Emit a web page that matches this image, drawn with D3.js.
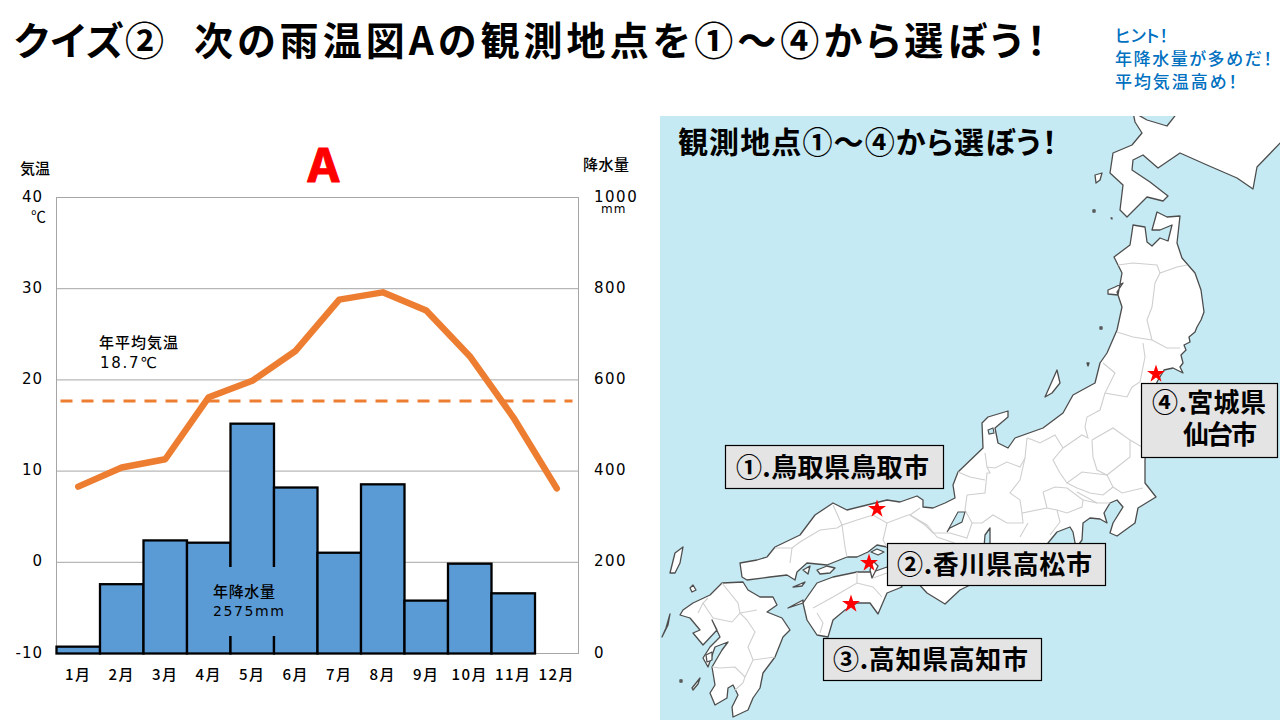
<!DOCTYPE html>
<html>
<head>
<meta charset="utf-8">
<script src="https://cdn.jsdelivr.net/npm/d3@7"></script>
<style>
  html, body { margin: 0; padding: 0; background: #fff; }
  text { font-family: "Noto Sans CJK JP", sans-serif; font-feature-settings: "palt"; }
  .num { font-family: "DejaVu Sans", sans-serif; }
</style>
</head>
<body>
<svg id="chart" width="1280" height="720" style="display:block"></svg>
<script>
// climate data
const months = ['1月','2月','3月','4月','5月','6月','7月','8月','9月','10月','11月','12月'];
const rainfall = [15, 152, 248, 243, 504, 364, 221, 371, 116, 197, 132, 0];
const temperature = [8.3, 10.4, 11.3, 18.1, 19.9, 23.2, 28.8, 29.6, 27.6, 22.6, 15.9, 8.1];
const meanLine = 17.7;
const tempTicks = [-10, 0, 10, 20, 30, 40];
const rainTicks = [0, 200, 400, 600, 800, 1000];

// map outlines, traced in page pixels
const coast = [
  // hokkaido
  [[1133,112],[1135,122],[1142,133],[1132,145],[1113,153],[1110,173],[1123,185],[1120,210],[1127,217],[1137,207],[1147,197],[1163,201],[1168,196],[1150,182],[1132,170],[1133,160],[1143,155],[1158,168],[1180,153],[1207,165],[1237,178],[1253,189],[1257,167],[1285,138],[1285,112],[1178,112],[1167,126],[1147,120]],
  // honshu
  [[1132,232],[1133,225],[1145,227],[1147,242],[1152,246],[1160,238],[1168,241],[1172,225],[1160,230],[1152,230],[1157,212],[1167,217],[1180,216],[1177,243],[1182,258],[1195,273],[1201,290],[1204,312],[1201,320],[1197,327],[1195,332],[1189,337],[1190,342],[1184,345],[1186,350],[1181,355],[1183,363],[1180,367],[1183,373],[1173,368],[1164,370],[1157,382],[1148,420],[1145,460],[1145,483],[1156,497],[1138,508],[1135,523],[1117,536],[1110,533],[1113,523],[1123,507],[1117,500],[1110,503],[1104,513],[1107,523],[1100,519],[1090,518],[1083,523],[1082,540],[1076,548],[1073,532],[1070,527],[1057,532],[1048,543],[1030,556],[1000,560],[990,545],[990,528],[985,535],[983,560],[970,585],[960,590],[945,604],[927,593],[915,580],[905,562],[887,547],[877,545],[868,552],[857,557],[847,557],[827,565],[807,563],[797,572],[795,580],[787,575],[770,577],[747,580],[742,577],[740,563],[757,560],[767,557],[775,547],[800,535],[815,515],[827,507],[833,503],[847,510],[867,505],[887,500],[900,502],[917,496],[923,500],[923,507],[933,508],[945,503],[955,498],[953,485],[958,472],[983,448],[982,423],[988,417],[1008,411],[1008,417],[995,428],[998,443],[1008,448],[1015,438],[1043,428],[1063,413],[1073,395],[1095,383],[1100,363],[1107,353],[1117,330],[1122,307],[1117,292],[1123,283],[1115,287],[1108,290],[1108,294],[1118,295],[1122,273],[1114,257],[1130,245]],
  // shikoku
  [[803,603],[817,583],[833,577],[857,572],[873,572],[887,567],[902,587],[887,593],[878,614],[870,603],[857,603],[845,610],[833,620],[828,637],[817,635],[807,620],[803,603],[788,608],[803,600]],
  // kyushu
  [[683,610],[693,603],[710,595],[722,583],[743,582],[748,590],[760,597],[773,597],[777,605],[767,612],[782,618],[790,630],[783,637],[775,657],[763,673],[760,688],[753,698],[748,710],[733,717],[732,707],[738,695],[733,685],[728,688],[727,698],[715,705],[710,693],[715,685],[712,667],[722,650],[728,642],[715,647],[708,667],[703,658],[710,647],[720,637],[712,620],[717,630],[703,645],[693,633],[700,630],[690,618],[680,615]],
  // islands
  [[1095,175],[1102,173],[1100,180],[1096,183]],
  [[1045,397],[1057,370],[1060,383],[1052,393]],
  [[670,573],[675,553],[683,547],[680,563],[675,573]],
  [[690,588],[693,585],[696,590],[692,592]],
  [[662,637],[668,625],[670,614],[666,628]],
  [[692,688],[700,678],[698,684],[693,690]],
  [[793,587],[805,582],[802,586]],
  [[803,570],[810,566],[808,574]],
  [[817,570],[827,566],[835,568],[830,573],[820,574]],
  [[871,552],[877,549],[884,552],[878,555]],
  [[873,561],[878,566],[872,578],[870,570]],
  [[706,655],[712,652],[712,660],[707,662]],
  [[1093,210],[1095,210],[1095,212],[1093,212]],
  [[1111,218],[1112,218],[1112,219]],
  [[1100,327],[1102,327],[1102,329],[1100,329]],
  [[1087,363],[1089,363],[1088,366]],
  [[680,680],[682,680],[682,682],[680,682]]
];
const lakes = [
  [[947,532],[958,512],[965,512],[962,522],[950,528]],
  [[988,430],[993,428],[994,433],[989,434]]
];
const borders = [
  [[1118,265],[1133,263],[1157,265],[1160,273],[1177,267],[1187,265]],
  [[1160,273],[1155,283],[1152,307],[1147,320],[1152,340]],
  [[1117,332],[1133,337],[1152,340],[1167,348],[1180,348]],
  [[1143,343],[1145,357],[1140,382],[1132,387]],
  [[1103,363],[1115,373],[1105,393],[1127,397],[1132,387]],
  [[1105,393],[1100,410],[1087,417],[1085,427],[1088,438],[1082,435],[1063,448],[1053,460],[1060,473],[1067,483],[1082,472],[1107,475],[1113,487],[1122,493],[1143,488]],
  [[1092,440],[1093,457],[1097,470],[1107,475],[1130,457],[1130,440],[1113,428],[1092,440]],
  [[1130,440],[1142,447]],
  [[1067,483],[1077,488],[1090,493],[1103,495],[1113,487]],
  [[1077,492],[1097,503],[1110,503]],
  [[1043,492],[1055,487],[1067,488],[1083,500],[1082,507],[1067,513],[1057,510],[1047,508],[1043,492]],
  [[1057,510],[1060,522],[1050,535]],
  [[1083,500],[1097,503]],
  [[1027,438],[1025,458],[1020,480],[1010,493],[1020,500],[1022,513],[1047,508]],
  [[985,453],[987,467],[995,468],[1007,462],[1020,467],[1025,458]],
  [[987,467],[990,473],[987,473],[985,493],[967,495]],
  [[1027,438],[1033,440],[1040,443],[1055,435],[1063,448]],
  [[967,495],[965,510],[972,523],[967,538],[950,533],[933,533],[925,525],[910,515],[920,508]],
  [[972,523],[982,523],[993,515],[1007,523],[1023,523],[1022,513]],
  [[1028,523],[1020,537]],
  [[958,472],[970,477],[985,480]],
  [[910,515],[908,515],[887,523],[873,515],[857,520],[842,525],[833,505]],
  [[775,548],[792,548],[800,542],[820,530],[837,528],[842,525],[845,547],[847,557]],
  [[792,548],[790,563]],
  [[887,523],[883,540],[887,547]],
  [[910,515],[927,525],[937,537],[960,545]],
  [[813,608],[833,597],[857,583],[873,587],[882,597]],
  [[857,572],[857,583]],
  [[873,578],[887,573]],
  [[817,613],[823,623],[820,633]],
  [[722,583],[738,603],[740,613],[732,622],[713,618]],
  [[713,618],[703,603],[708,598]],
  [[740,613],[757,610]],
  [[740,613],[747,620],[755,632],[748,647],[753,660],[775,657]],
  [[712,667],[720,668],[735,667],[745,677],[743,683],[735,690]],
  [[745,677],[753,660]],
  [[703,603],[698,613]]
];
const stars = [[877,509],[869,563],[851,604],[1156,374]];
const labels = [
  {rect: [725,445,218,43], lines: [['①.鳥取県鳥取市',736,477,193]]},
  {rect: [887,543,218,42], lines: [['②.香川県高松市',897,574,195]]},
  {rect: [823,638,218,42], lines: [['③.高知県高知市',833,669,195]]},
  {rect: [1141,383,136,74], lines: [['④.宮城県',1152,412,114],['仙台市',1183,444,74]]}
];

const svg = d3.select('#chart');

// title and hint
svg.append('text').attr('x', 14).attr('y', 55)
  .attr('textLength', 150)
  .style('font-size', '39px').style('font-weight', 700)
  .text('クイズ②');
svg.append('text').attr('x', 194).attr('y', 55)
  .attr('textLength', 852)
  .style('font-size', '39px').style('font-weight', 700)
  .text('次の雨温図Aの観測地点を①～④から選ぼう！');

const hint = [['ヒント！', 53], ['年降水量が多めだ！', 157], ['平均気温高め！', 122]];
svg.selectAll('text.hint').data(hint).enter().append('text')
  .attr('class', 'hint')
  .attr('x', 1115)
  .attr('y', (d, i) => 42 + i * 23)
  .attr('textLength', d => d[1])
  .style('font-size', '17px').style('font-weight', 500)
  .style('fill', '#0070c0')
  .text(d => d[0]);

// chart scales
const plotLeft = 56.5, plotRight = 578.5, plotTop = 197.5, plotBottom = 653.5;
const x = d3.scaleBand().domain(months).range([plotLeft, plotRight]);
const yTemp = d3.scaleLinear().domain([-10, 40]).range([plotBottom, plotTop]);
const yRain = d3.scaleLinear().domain([0, 1000]).range([plotBottom, plotTop]);
const cx = d => x(d) + x.bandwidth() / 2;

// gridlines and frame
svg.append('g').selectAll('line').data(tempTicks).enter().append('line')
  .attr('x1', plotLeft).attr('x2', plotRight)
  .attr('y1', d => yTemp(d)).attr('y2', d => yTemp(d))
  .attr('stroke', '#a6a6a6').attr('stroke-width', 1);
svg.append('rect')
  .attr('x', plotLeft).attr('y', plotTop)
  .attr('width', plotRight - plotLeft).attr('height', plotBottom - plotTop)
  .attr('fill', 'none').attr('stroke', '#a6a6a6').attr('stroke-width', 1);

// rainfall bars
svg.append('g').selectAll('rect').data(months.filter((d, i) => rainfall[i] > 0)).enter().append('rect')
  .attr('x', d => x(d))
  .attr('y', d => yRain(rainfall[months.indexOf(d)]))
  .attr('width', x.bandwidth())
  .attr('height', d => plotBottom - yRain(rainfall[months.indexOf(d)]))
  .attr('fill', '#5b9bd5').attr('stroke', '#000').attr('stroke-width', 2.3);

// rainfall note sits on a blue box that hides the bar edges
svg.append('rect').attr('x', 205).attr('y', 567).attr('width', 92).attr('height', 69).attr('fill', '#5b9bd5');
svg.append('text').attr('x', 213).attr('y', 597).style('font-size', '15px').style('font-weight', 500)
  .attr('textLength', 62).text('年降水量');
svg.append('text').attr('class', 'num').attr('x', 213).attr('y', 616).style('font-size', '14px')
  .attr('textLength', 71).text('2575mm');

// mean temperature line and monthly curve
svg.append('line')
  .attr('x1', x(months[0]) + 4).attr('x2', x(months[11]) + x.bandwidth() - 6)
  .attr('y1', yTemp(meanLine)).attr('y2', yTemp(meanLine))
  .attr('stroke', '#ed7d31').attr('stroke-width', 3).attr('stroke-dasharray', '12 9');

const tempLine = d3.line().x((d, i) => cx(months[i])).y(d => yTemp(d));
svg.append('path').datum(temperature)
  .attr('d', tempLine)
  .attr('fill', 'none').attr('stroke', '#ed7d31').attr('stroke-width', 6.5)
  .attr('stroke-linecap', 'round').attr('stroke-linejoin', 'round');

// axis labels
svg.selectAll('text.temp').data(tempTicks).enter().append('text')
  .attr('class', 'temp num')
  .attr('x', 43).attr('text-anchor', 'end')
  .attr('y', d => yTemp(d) + 4)
  .style('font-size', '15px').style('letter-spacing', '1px')
  .text(d => d);
svg.selectAll('text.rain').data(rainTicks).enter().append('text')
  .attr('class', 'rain num')
  .attr('x', 594)
  .attr('y', d => yRain(d) + 4)
  .style('font-size', '15px').style('letter-spacing', '1.5px')
  .text(d => d);
svg.selectAll('text.month').data(months).enter().append('text')
  .attr('class', 'month')
  .attr('x', d => cx(d)).attr('y', 680)
  .attr('text-anchor', 'middle')
  .style('font-size', '15px').style('font-weight', 500).style('letter-spacing', '1.5px')
  .text(d => d);

svg.append('text').attr('x', 20).attr('y', 174).style('font-size', '15px').style('font-weight', 500).text('気温');
svg.append('text').attr('x', 583).attr('y', 170).style('font-size', '15px').style('font-weight', 500).attr('textLength', 46).text('降水量');
svg.append('text').attr('x', 31).attr('y', 222).style('font-size', '15px').text('℃');
svg.append('text').attr('class', 'num').attr('x', 601).attr('y', 213).style('font-size', '12px').style('letter-spacing', '1px').text('mm');
svg.append('text').attr('x', 99).attr('y', 348).style('font-size', '15px').style('font-weight', 500).attr('textLength', 79).text('年平均気温');
svg.append('text').attr('class', 'num').attr('x', 100).attr('y', 368).style('font-size', '15px').attr('textLength', 57).text('18.7℃');
svg.append('text').attr('x', 323.5).attr('y', 182).attr('text-anchor', 'middle')
  .style('font-size', '46px').style('font-weight', 700).style('fill', '#ff0000')
  .style('stroke', '#ff0000').style('stroke-width', 1).style('stroke-linejoin', 'round')
  .style('font-family', 'Inter, sans-serif').text('A');

// map
const map = svg.append('g');
svg.append('clipPath').attr('id', 'mapClip').append('rect')
  .attr('x', 660).attr('y', 116).attr('width', 620).attr('height', 604);
map.attr('clip-path', 'url(#mapClip)');
map.append('rect').attr('x', 660).attr('y', 116).attr('width', 620).attr('height', 604).attr('fill', '#c6eaf3');

const landPath = d3.line().curve(d3.curveLinearClosed);
const borderPath = d3.line();
map.selectAll('path.land').data(coast).enter().append('path')
  .attr('class', 'land')
  .attr('d', landPath)
  .attr('fill', '#fff').attr('stroke', '#4d4d4d').attr('stroke-width', 1.3).attr('stroke-linejoin', 'round');
map.selectAll('path.border').data(borders).enter().append('path')
  .attr('class', 'border')
  .attr('d', borderPath)
  .attr('fill', 'none').attr('stroke', '#cfcfcf').attr('stroke-width', 1.1);
map.selectAll('path.lake').data(lakes).enter().append('path')
  .attr('class', 'lake')
  .attr('d', landPath)
  .attr('fill', '#c6eaf3').attr('stroke', '#4d4d4d').attr('stroke-width', 1.1);

const starShape = d3.symbol().type(d3.symbolStar).size(100);
map.selectAll('path.star').data(stars).enter().append('path')
  .attr('class', 'star')
  .attr('d', starShape)
  .attr('transform', d => `translate(${d[0]},${d[1]})`)
  .attr('fill', '#ff0000');

map.append('text').attr('x', 678).attr('y', 153).attr('textLength', 379)
  .style('font-size', '30px').style('font-weight', 700)
  .text('観測地点①～④から選ぼう！');

const boxes = svg.selectAll('g.place').data(labels).enter().append('g').attr('class', 'place');
boxes.append('rect')
  .attr('x', d => d.rect[0] + .5).attr('y', d => d.rect[1] + .5)
  .attr('width', d => d.rect[2]).attr('height', d => d.rect[3])
  .attr('fill', '#e4e4e4').attr('stroke', '#000').attr('stroke-width', 1.2);
boxes.selectAll('text').data(d => d.lines).enter().append('text')
  .attr('x', d => d[1]).attr('y', d => d[2])
  .attr('textLength', d => d[3])
  .style('font-size', '26px').style('font-weight', 700)
  .text(d => d[0]);
</script>
</body>
</html>
